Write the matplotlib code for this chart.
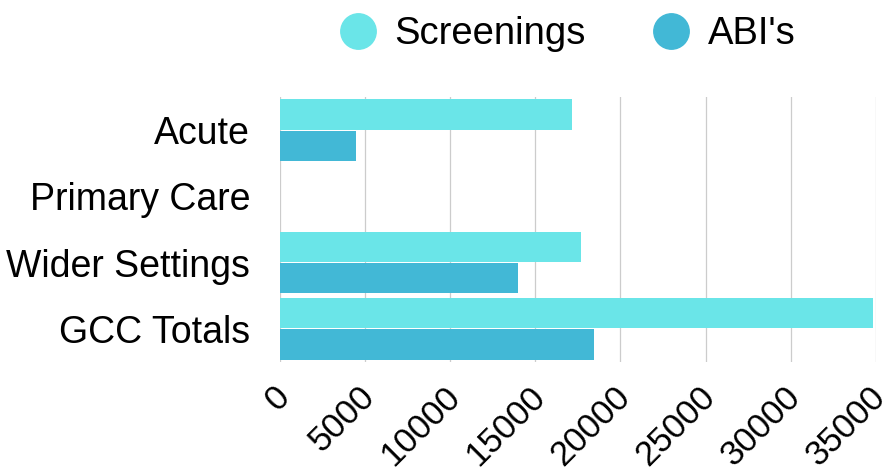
import matplotlib
matplotlib.use("Agg")
import matplotlib.pyplot as plt
import matplotlib.transforms as mtransforms
from matplotlib.lines import Line2D
import numpy as np

plt.rcParams['font.family'] = ['Liberation Sans', 'DejaVu Sans']

categories = ['Acute', 'Primary Care', 'Wider Settings', 'GCC Totals']
screenings = [17140, 0, 17670, 34830]
abis = [4470, 0, 14000, 18470]
series_names = ['Screenings', "ABI's"]
colors = ['#6ae5e8', '#42b8d6']
xticks = [0, 5000, 10000, 15000, 20000, 25000, 30000, 35000]

fig = plt.figure(figsize=(8.94, 4.76), dpi=100)
ax = fig.add_axes([280 / 894, 1 - 362 / 476, 595.7 / 894, 265 / 476])

y = np.arange(len(categories))
h = 0.455
ax.barh(y - 0.235, screenings, height=h, color=colors[0], zorder=2)
ax.barh(y + 0.235, abis, height=h, color=colors[1], zorder=2)

ax.set_xlim(0, 35000)
ax.set_ylim(len(categories) - 0.5, -0.5)
ax.set_yticks(y)
ax.set_yticklabels(categories, fontsize=27)
ax.set_xticks(xticks)
ax.set_xticklabels([str(t) for t in xticks], fontsize=25, rotation=45,
                   ha='right', va='center', rotation_mode='anchor')
ax.tick_params(axis='y', length=0, pad=21.6)
ax.tick_params(axis='x', length=0, pad=21.5)
# chart.js puts rotated labels a bit right of the tick
offset = mtransforms.ScaledTranslation(5 / 100, 0, fig.dpi_scale_trans)
for lbl in ax.get_xticklabels():
    lbl.set_transform(lbl.get_transform() + offset)

ax.grid(axis='x', color='#cccccc', linewidth=0.9, zorder=0)
ax.set_axisbelow(True)
for s in ax.spines.values():
    s.set_visible(False)

handles = [Line2D([], [], linestyle='none', marker='o', markersize=25.5,
                  markerfacecolor=c, markeredgecolor=c) for c in colors]
fig.legend(handles, series_names, loc='center', bbox_to_anchor=(567 / 894, 1 - 34 / 476),
           ncol=2, frameon=False, fontsize=27.5, handlelength=1.0,
           handletextpad=0.45, columnspacing=1.75, borderpad=0, borderaxespad=0)

fig.savefig('out.png', dpi=100)
